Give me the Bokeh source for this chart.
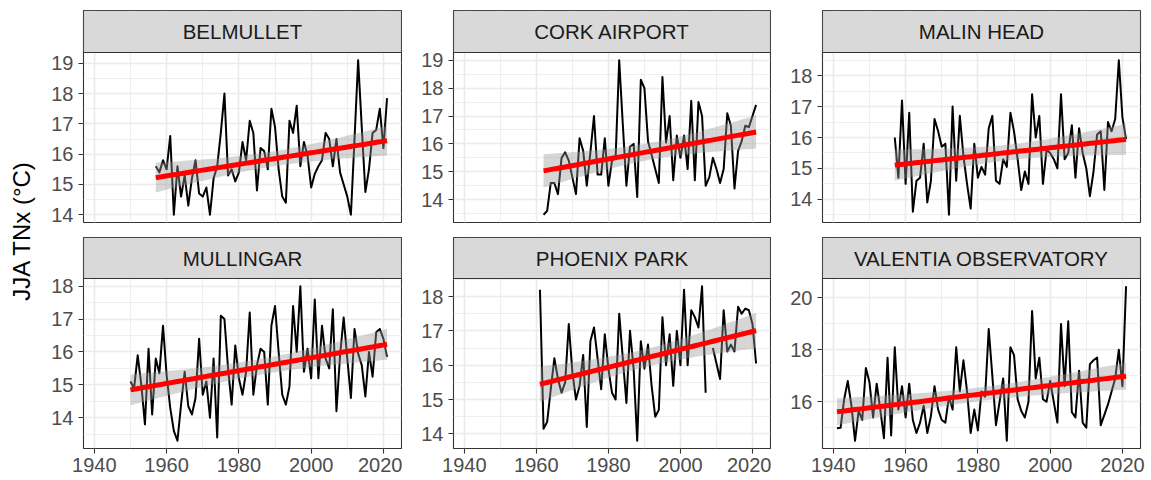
import numpy as np
from bokeh.plotting import figure
from bokeh.layouts import row, column
from bokeh.models import Range1d, FixedTicker, Label
from bokeh.embed import file_html
from bokeh.resources import INLINE

# ---------------- data ----------------
stations = ["BELMULLET", "CORK AIRPORT", "MALIN HEAD",
            "MULLINGAR", "PHOENIX PARK", "VALENTIA OBSERVATORY"]

belmullet_start = 1957
belmullet = [15.6, 15.4, 15.8, 15.5, 16.6, 14.0, 15.6, 14.6, 15.3, 14.3,
             15.2, 15.8, 14.7, 14.6, 14.9, 14.0, 15.2, 15.6, 16.7, 18.0,
             15.3, 15.5, 15.1, 15.4, 16.4, 15.8, 17.1, 16.7, 14.8, 16.2,
             16.1, 15.5, 17.5, 16.9, 15.5, 14.6, 14.4, 17.1, 16.7, 17.6,
             15.6, 16.4, 15.95, 14.9, 15.35, 15.6, 15.8, 16.7, 16.5, 15.6,
             16.5, 15.4, 15.0, 14.6, 14.0, 16.5, 19.1, 16.9, 14.75, 15.5,
             16.7, 16.8, 17.5, 16.2, 17.85]

cork_start = 1962
cork = [13.46, 13.6, 14.6, 14.6, 14.2, 15.5, 15.7, 15.4, 14.8, 14.2,
        16.2, 15.75, 14.5, 15.7, 17.0, 14.9, 14.9, 16.2, 14.5, 15.4,
        15.5, 19.0, 16.7, 14.5, 15.9, 16.0, 14.1, 18.3, 18.0, 16.1,
        15.6, 15.1, 14.6, 18.4, 16.05, 17.0, 14.7, 16.3, 15.5, 16.3,
        15.1, 17.55, 14.7, 17.5, 17.0, 14.5, 14.8, 15.5, 15.1, 14.6,
        15.1, 17.1, 16.65, 14.4, 15.75, 16.1, 16.65, 16.6, 17.0, 17.4]

malin_start = 1957
malin = [16.0, 14.7, 17.2, 14.5, 16.8, 13.6, 14.6, 14.7, 15.8, 13.9,
         14.6, 16.6, 16.2, 15.7, 15.8, 13.5, 17.0, 14.6, 16.7, 15.4,
         14.5, 13.7, 15.8, 14.7, 15.05, 14.8, 16.3, 16.7, 14.6, 14.5,
         15.3, 15.05, 16.8, 16.2, 15.3, 14.3, 14.9, 14.5, 17.4, 16.0,
         16.7, 14.5, 15.6, 15.5, 15.3, 15.0, 17.4, 15.3, 15.5, 16.4,
         14.7, 16.3, 15.5, 15.0, 14.1, 14.9, 16.1, 16.2, 14.3, 16.5,
         16.2, 16.6, 18.5, 16.65, 15.95]

mullingar_start = 1950
mullingar = [15.1, 14.9, 15.9, 15.0, 13.8, 16.1, 14.1, 15.8, 15.35, 16.8,
             15.3, 14.3, 13.6, 13.3, 14.4, 15.4, 14.35, 14.1, 14.6, 16.4,
             14.7, 15.1, 14.0, 15.8, 13.4, 17.1, 17.0, 15.5, 14.4, 16.2,
             15.2, 14.7, 15.4, 17.2, 14.7, 15.6, 16.1, 16.0, 14.4, 16.8,
             17.4, 16.0, 14.7, 14.4, 14.95, 17.4, 16.0, 18.0, 15.4, 16.1,
             15.2, 17.6, 15.2, 16.8, 15.8, 15.5, 17.3, 14.2, 15.9, 17.05,
             15.8, 14.6, 16.7, 15.95, 15.6, 14.65, 16.0, 15.25, 16.6, 16.7,
             16.4, 15.85]

phoenix_start = 1961
phoenix = [18.2, 14.15, 14.35, 15.3, 16.2, 15.6, 15.2, 15.5, 17.2, 15.8,
           15.0, 15.4, 16.3, 14.2, 16.7, 17.1, 16.2, 15.3, 16.9, 15.9,
           15.2, 15.0, 17.5, 16.2, 14.9, 17.0, 15.9, 13.8, 16.7, 15.9,
           16.6, 15.4, 14.5, 14.7, 17.4, 16.0, 16.9, 15.4, 17.0, 16.0,
           18.2, 16.0, 17.6, 17.4, 17.1, 18.3, 15.2, float("nan"), 16.5, 16.05,
           15.6, 17.6, 16.4, 16.6, 16.4, 17.7, 17.5, 17.65, 17.6, 17.2,
           16.05]

valentia_start = 1941
valentia = [14.98, 15.0, 16.1, 16.8, 15.85, 14.5, 15.65, 15.3, 17.3, 16.75,
            15.4, 16.7, 15.7, 14.6, 17.7, 14.7, 18.1, 15.7, 16.6, 15.4,
            16.7, 15.3, 14.8, 15.2, 15.85, 14.8, 15.45, 16.6, 15.7, 15.3,
            15.2, 16.2, 15.7, 18.1, 16.4, 17.6, 16.4, 14.8, 15.7, 14.9,
            16.4, 16.2, 18.8, 17.0, 15.1, 16.0, 16.9, 14.5, 18.1, 17.8,
            16.1, 15.65, 15.4, 16.0, 19.5, 16.9, 17.7, 16.1, 16.0, 16.8,
            16.0, 15.2, 19.0, 16.6, 19.1, 15.6, 15.4, 17.2, 15.2, 15.0,
            17.45, 17.6, 17.7, 15.1, 15.5, 15.9, 16.4, 16.9, 18.0, 16.6,
            20.45]

starts = [belmullet_start, cork_start, malin_start,
          mullingar_start, phoenix_start, valentia_start]
series = [belmullet, cork, malin, mullingar, phoenix, valentia]

x_ticks = [1940, 1960, 1980, 2000, 2020]
x_minor = [1950, 1970, 1990, 2010]
y_ticks = [[14, 15, 16, 17, 18, 19], [14, 15, 16, 17, 18, 19], [14, 15, 16, 17, 18],
           [14, 15, 16, 17, 18], [14, 15, 16, 17, 18], [16, 18, 20]]
y_minor = [[13.5, 14.5, 15.5, 16.5, 17.5, 18.5, 19.5], [13.5, 14.5, 15.5, 16.5, 17.5, 18.5],
           [13.5, 14.5, 15.5, 16.5, 17.5, 18.5], [13.5, 14.5, 15.5, 16.5, 17.5, 18.5],
           [13.5, 14.5, 15.5, 16.5, 17.5, 18.5], [15, 17, 19]]
y_title = "JJA TNx (°C)"

# ---------------- styling ----------------
FONT = "Liberation Sans"
TICK_FS = "20px"
STRIP_FS = "20.5px"
TITLE_FS = "24px"
DARK = "#333333"
GRID = "#EBEBEB"


def fit_lm(years, vals):
    x = np.asarray(years, float)
    y = np.asarray(vals, float)
    m = ~np.isnan(y)
    x, y = x[m], y[m]
    n = len(x)
    b, a = np.polyfit(x, y, 1)
    xs = np.linspace(x.min(), x.max(), 80)
    ys = a + b * xs
    resid = y - (a + b * x)
    s = np.sqrt(np.sum(resid ** 2) / (n - 2))
    sxx = np.sum((x - x.mean()) ** 2)
    se = s * np.sqrt(1.0 / n + (xs - x.mean()) ** 2 / sxx)
    t = 1.96 + 2.4 / (n - 2)
    return xs, ys, ys - t * se, ys + t * se


all_years = []
for st, v in zip(starts, series):
    all_years += [st, st + len(v) - 1]
xmin, xmax = min(all_years), max(all_years)
xpad = 0.05 * (xmax - xmin)
XR = (xmin - xpad, xmax + xpad)

# layout geometry (pixels)
TITLE_W = 40
LEFT = [43, 51, 51]
FRAME_W = [318, 317, 318]
RIGHT = [1, 1, 11]
# row: (top border, strip height, panel height, bottom border)
ROWS = [(10, 42, 170, 14), (1, 41, 170, 32)]


def panel(i, col, r, show_x):
    top_b, strip_h, panel_h, bot_b = ROWS[r]
    st = starts[i]
    vals = series[i]
    years = list(range(st, st + len(vals)))
    xs, ys, lo, hi = fit_lm(years, vals)
    v = np.asarray(vals, float)
    ymin = min(np.nanmin(v), lo.min())
    ymax = max(np.nanmax(v), hi.max())
    ypad = 0.05 * (ymax - ymin)
    y0, y1 = ymin - ypad, ymax + ypad
    ytop = y1 + (y1 - y0) * strip_h / panel_h

    p = figure(width=LEFT[col] + FRAME_W[col] + RIGHT[col],
               height=top_b + strip_h + panel_h + bot_b,
               x_range=Range1d(*XR), y_range=Range1d(y0, ytop),
               output_backend="svg", toolbar_location=None,
               min_border_left=LEFT[col], min_border_right=RIGHT[col],
               min_border_top=top_b, min_border_bottom=bot_b)
    p.background_fill_color = "white"
    p.border_fill_color = "white"
    p.outline_line_color = DARK
    p.outline_line_width = 1.1

    xt = FixedTicker(ticks=x_ticks, minor_ticks=x_minor)
    yt = FixedTicker(ticks=y_ticks[i], minor_ticks=y_minor[i])
    p.xaxis.ticker = xt
    p.yaxis.ticker = yt
    p.xgrid.ticker = xt
    p.ygrid.ticker = yt
    for g in (p.xgrid, p.ygrid):
        g.grid_line_color = GRID
        g.grid_line_width = 1.6
        g.minor_grid_line_color = GRID
        g.minor_grid_line_width = 0.8
    for ax in (p.xaxis, p.yaxis):
        ax.axis_line_color = None
        ax.major_tick_line_color = DARK
        ax.major_tick_line_width = 1.1
        ax.major_tick_in = 0
        ax.major_tick_out = 5
        ax.minor_tick_line_color = None
        ax.major_label_text_font = FONT
        ax.major_label_text_font_size = TICK_FS
        ax.major_label_text_color = "#4D4D4D"
    p.yaxis.major_label_standoff = 5
    p.xaxis.major_label_standoff = 4
    if not show_x:
        p.xaxis.visible = False

    p.line(years, vals, line_color="black", line_width=2.0, line_join="round")
    p.varea(x=xs, y1=lo, y2=hi, fill_color="#999999", fill_alpha=0.4)
    p.line(xs, ys, line_color="#FF0000", line_width=5)

    # facet strip (drawn inside the frame, above the panel area)
    p.quad(left=[XR[0]], right=[XR[1]], bottom=[y1], top=[ytop],
           fill_color="#D9D9D9", line_color=DARK, line_width=1.1)
    p.add_layout(Label(x=(XR[0] + XR[1]) / 2, y=(y1 + ytop) / 2, text=stations[i],
                       text_align="center", text_baseline="middle", text_font=FONT,
                       text_font_size=STRIP_FS, text_color="#1A1A1A"))
    return p


cols = []
for c in range(3):
    cols.append(column(panel(c, c, 0, False), panel(c + 3, c, 1, True)))

H = sum(sum(r) for r in ROWS)
tf = figure(width=TITLE_W, height=H, x_range=Range1d(0, 1), y_range=Range1d(0, 1),
            x_axis_location=None, y_axis_location=None,
            output_backend="svg", toolbar_location=None,
            min_border_left=0, min_border_right=0, min_border_top=0, min_border_bottom=0)
tf.grid.visible = False
tf.outline_line_color = None
tf.background_fill_color = "white"
tf.border_fill_color = "white"
tf.add_layout(Label(x=21.0 / TITLE_W, y=1 - 230.0 / H, text=y_title, angle=np.pi / 2,
                    text_align="center", text_baseline="middle", text_font=FONT,
                    text_font_size=TITLE_FS, text_color="black"))

layout = row(tf, *cols)
open("out.html", "w").write(file_html(layout, INLINE))
